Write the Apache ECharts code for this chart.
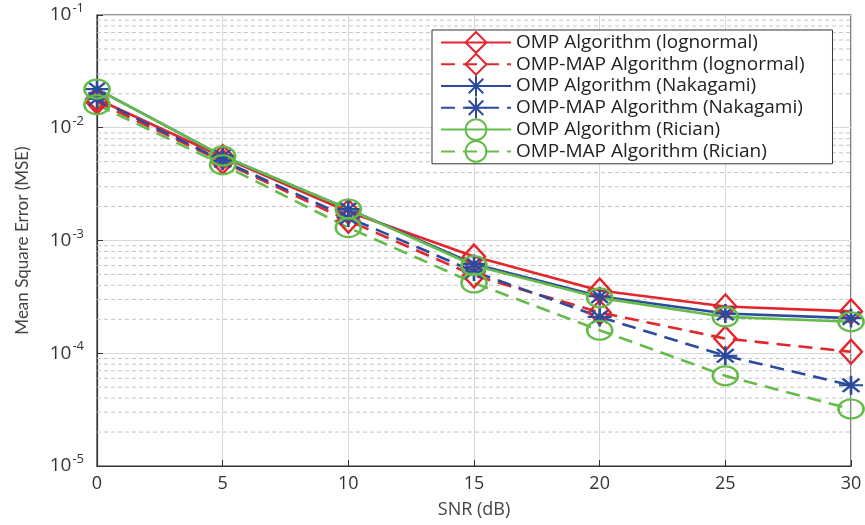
<!DOCTYPE html>
<html><head><meta charset="utf-8">
<script src="https://cdn.jsdelivr.net/npm/echarts@6/dist/echarts.min.js"></script>
<style>html,body{margin:0;padding:0;background:#fff}#c{width:865px;height:525px}</style>
</head><body><div id="c"></div>
<script>
const snr = [0, 5, 10, 15, 20, 25, 30];
const ompLognormal    = [0.018, 0.0055, 0.0018, 7.2e-4, 3.6e-4, 2.6e-4, 2.35e-4];
const ompMapLognormal = [0.017, 0.0050, 0.0015, 4.9e-4, 2.3e-4, 1.35e-4, 1.03e-4];
const ompNakagami     = [0.022, 0.0056, 0.0019, 6.2e-4, 3.2e-4, 2.25e-4, 2.05e-4];
const ompMapNakagami  = [0.018, 0.0051, 0.0016, 5.3e-4, 2.1e-4, 9.5e-5, 5.2e-5];
const ompRician       = [0.022, 0.0056, 0.0019, 6.0e-4, 3.1e-4, 2.1e-4, 1.9e-4];
const ompMapRician    = [0.016, 0.0047, 0.0013, 4.2e-4, 1.6e-4, 6.3e-5, 3.2e-5];
const seriesNames = ['OMP Algorithm (lognormal)', 'OMP-MAP Algorithm (lognormal)', 'OMP Algorithm (Nakagami)', 'OMP-MAP Algorithm (Nakagami)', 'OMP Algorithm (Rician)', 'OMP-MAP Algorithm (Rician)'];
const decades = [1e-5, 1e-4, 1e-3, 1e-2];
const minorMultipliers = [2, 3, 4, 5, 6, 7, 8, 9];
const xRange = [0, 30];

const RED = '#e3262b', BLUE = '#2d4b9d', GREEN = '#66bc4a';
const ASTER = 'path://M10,0 L10,20 M0,10 L20,10 M3,3 L17,17 M3,17 L17,3';
const ELLIPSE = 'path://M0,50 A50,50 0 1 1 100,50 A50,50 0 1 1 0,50 Z';
const DIAMOND = 'path://M50,0 L100,50 L50,100 L0,50 Z';
const FONT = 'Open Sans';

function mk(name, data, color, dashed, symbol, size) {
  return {
    name, type: 'line', data: snr.map((x, i) => [x, data[i]]),
    symbol, symbolSize: size, symbolKeepAspect: false, showAllSymbol: true,
    lineStyle: { color, width: 2.6, type: dashed ? [14, 8] : 'solid' },
    itemStyle: { color: 'rgba(0,0,0,0)', borderColor: color, borderWidth: 2.4 },
    z: 3
  };
}
const series = [
  mk(seriesNames[0], ompLognormal, RED, false, DIAMOND, [22, 24]),
  mk(seriesNames[1], ompMapLognormal, RED, true, DIAMOND, [22, 24]),
  mk(seriesNames[2], ompNakagami, BLUE, false, ASTER, [24, 19]),
  mk(seriesNames[3], ompMapNakagami, BLUE, true, ASTER, [24, 19]),
  mk(seriesNames[4], ompRician, GREEN, false, ELLIPSE, [25, 19]),
  mk(seriesNames[5], ompMapRician, GREEN, true, ELLIPSE, [25, 19])
];
decades.forEach(d => minorMultipliers.forEach(m => {
  series.push({
    type: 'line', silent: true, z: 1, symbol: 'none',
    data: xRange.map(x => [x, d * m]),
    lineStyle: { color: '#c4c4c4', width: 1, type: [4, 3] }
  });
}));

const chart = echarts.init(document.getElementById('c'), null, { renderer: 'canvas' });
chart.setOption({
  backgroundColor: '#fff',
  animation: false,
  textStyle: { fontFamily: FONT },
  grid: { left: 97, right: 14, top: 15, bottom: 59, show: true, borderColor: '#333', borderWidth: 1.2, backgroundColor: 'transparent' },
  legend: {
    data: seriesNames, orient: 'vertical', left: 432, top: 30,
    backgroundColor: '#fff', borderColor: '#333', borderWidth: 1, borderRadius: 0,
    padding: [1, 28, 1, 8], itemGap: -1, itemWidth: 70, itemHeight: 26,
    textStyle: { fontFamily: FONT, fontSize: 19, color: '#222' }
  },
  xAxis: {
    type: 'value', min: 0, max: 30, interval: 5,
    name: 'SNR (dB)', nameLocation: 'middle', nameGap: 35,
    nameTextStyle: { fontFamily: FONT, fontSize: 18, color: '#444' },
    axisLine: { show: true, lineStyle: { color: '#333', width: 1.2 } },
    axisTick: { show: true, inside: true, length: 6, lineStyle: { color: '#333' } },
    axisLabel: { fontFamily: FONT, fontSize: 18, color: '#333', margin: 9 },
    splitLine: { show: true, lineStyle: { color: '#d8d8d8', width: 1 } }
  },
  yAxis: {
    type: 'log', logBase: 10, min: 1e-5, max: 1e-1,
    name: 'Mean Square Error (MSE)', nameLocation: 'middle', nameGap: 66,
    nameTextStyle: { fontFamily: 'Lato', fontSize: 17, color: '#444' },
    axisLine: { show: true, lineStyle: { color: '#333', width: 1.2 } },
    axisTick: { show: true, inside: true, length: 6, lineStyle: { color: '#333' } },
    axisLabel: {
      margin: 13,
      formatter: v => '{b|10}{s|' + Math.round(Math.log10(v)) + '}',
      rich: {
        b: { fontFamily: FONT, fontSize: 19, color: '#333' },
        s: { fontFamily: FONT, fontSize: 13, color: '#333', padding: [0, 0, 13, 1] }
      }
    },
    splitLine: { show: true, lineStyle: { color: '#d8d8d8', width: 1 } }
  },
  series
});
</script></body></html>
